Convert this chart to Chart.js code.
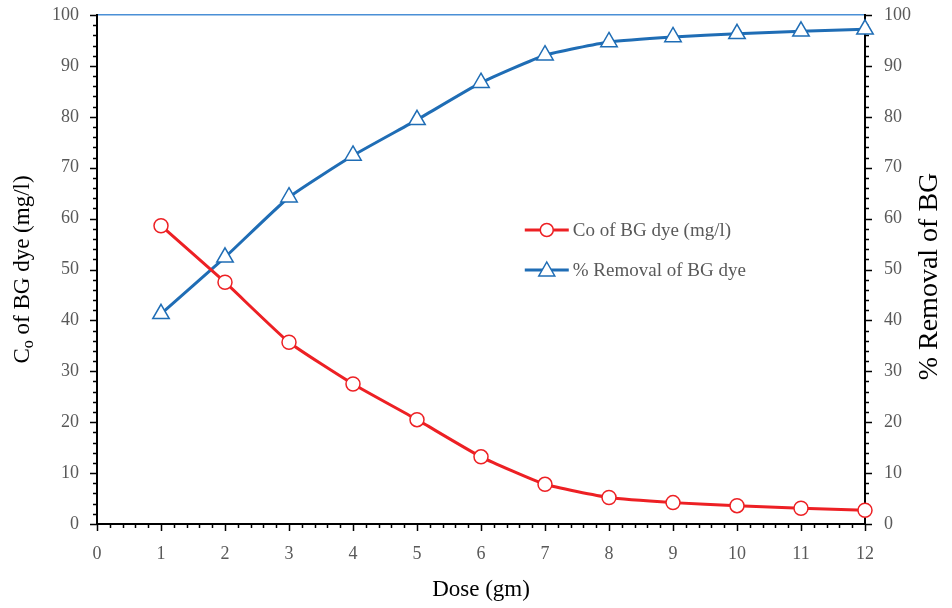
<!DOCTYPE html>
<html>
<head>
<meta charset="UTF-8" />
<title>BG dye removal vs dose</title>
<style>
body { margin: 0; background: #fff; }
#wrap { width: 952px; height: 608px; }
</style>
<script src="https://cdn.jsdelivr.net/npm/chart.js@4/dist/chart.umd.min.js"></script>
</head>
<body>
<div id="wrap"><canvas id="chart1" width="952" height="608"></canvas></div>
<script>
// values
var doses = [1, 2, 3, 4, 5, 6, 7, 8, 9, 10, 11, 12];
var coValues = [58.6, 47.5, 35.7, 27.5, 20.5, 13.2, 7.8, 5.2, 4.2, 3.6, 3.1, 2.7];
var removalValues = [41.3, 52.4, 64.2, 72.4, 79.4, 86.7, 92.1, 94.7, 95.7, 96.3, 96.8, 97.2];
var xTicks = [0, 1, 2, 3, 4, 5, 6, 7, 8, 9, 10, 11, 12];
var yTicks = [0, 10, 20, 30, 40, 50, 60, 70, 80, 90, 100];

var seriesNames = ["Co of BG dye (mg/l)", "% Removal of BG dye"];
var red = "#ED2024";
var blue = "#1F6DB5";
var tickGray = "#595959";
var serif = "'Liberation Serif', 'Times New Roman', serif";

function pts(vals) {
	return doses.map(function(d, i) { return { x: d, y: vals[i] }; });
}

function noPad(s) {
	s.paddingTop = 0; s.paddingBottom = 0; s.paddingLeft = 0; s.paddingRight = 0;
}

// minor/major tick marks, rotated axis titles and the in-plot legend
var decor = {
	id: 'decor',
	beforeDatasetsDraw: function(chart) {
		var c = chart.ctx, a = chart.chartArea;
		var xs = chart.scales.x, yl = chart.scales.yLeft, yr = chart.scales.yRight;
		c.save();
		c.strokeStyle = "#000";
		c.lineWidth = 1.5;
		c.beginPath();
		for (var i = 0; i <= 60; i++) {
			var v = i / 5, px = Math.round(xs.getPixelForValue(v)) + 0.5;
			var len = (i % 5 == 0) ? 7 : 4;
			c.moveTo(px, a.bottom); c.lineTo(px, a.bottom + len);
		}
		for (var j = 0; j <= 50; j++) {
			var yv = j * 2, py = Math.round(yl.getPixelForValue(yv)) + 0.5;
			var l2 = (j % 5 == 0) ? 7 : 4;
			c.moveTo(a.left, py); c.lineTo(a.left - l2, py);
			var py2 = Math.round(yr.getPixelForValue(yv)) + 0.5;
			c.moveTo(a.right, py2); c.lineTo(a.right + l2, py2);
		}
		c.stroke();
		c.restore();
	},
	afterDraw: function(chart) {
		var c = chart.ctx, a = chart.chartArea;
		var midY = (a.top + a.bottom) / 2;
		c.save();
		c.fillStyle = "#000";
		c.textBaseline = "middle";
		// left title with subscript o
		c.save();
		c.translate(23, midY);
		c.rotate(-Math.PI / 2);
		var big = "23px " + serif, small = "16px " + serif;
		c.font = big;
		var w1 = c.measureText("C").width;
		var w3 = c.measureText(" of BG dye (mg/l)").width;
		c.font = small;
		var w2 = c.measureText("o").width;
		var x0 = -(w1 + w2 + w3) / 2;
		c.textAlign = "left";
		c.font = big;
		c.fillText("C", x0, 0);
		c.font = small;
		c.fillText("o", x0 + w1, 6);
		c.font = big;
		c.fillText(" of BG dye (mg/l)", x0 + w1 + w2, 0);
		c.restore();
		// right title (runs off the canvas edge like the original)
		c.save();
		c.translate(930, midY + 7);
		c.rotate(-Math.PI / 2);
		c.textAlign = "center";
		c.font = "28px " + serif;
		c.fillText("% Removal of BG", 0, 0);
		c.restore();
		// legend inside the plot
		var lx = a.left + (a.right - a.left) * 0.557;
		var ly = [230, 270];
		var colors = [red, blue];
		c.font = "19px " + serif;
		c.textAlign = "left";
		for (var k = 0; k < 2; k++) {
			c.strokeStyle = colors[k];
			c.lineWidth = 3;
			c.beginPath(); c.moveTo(lx, ly[k]); c.lineTo(lx + 44, ly[k]); c.stroke();
			c.fillStyle = "#fff";
			c.lineWidth = 1.5;
			c.beginPath();
			if (k == 0) {
				c.arc(lx + 22, ly[k], 6.5, 0, Math.PI * 2);
			} else {
				c.moveTo(lx + 22, ly[k] - 8); c.lineTo(lx + 30, ly[k] + 6); c.lineTo(lx + 14, ly[k] + 6); c.closePath();
			}
			c.fill(); c.stroke();
			c.fillStyle = tickGray;
			c.fillText(seriesNames[k], lx + 48, ly[k] + 1);
		}
		c.restore();
	}
};

new Chart(document.getElementById("chart1"), {
	type: 'line',
	data: {
		datasets: [{
			label: seriesNames[0],
			data: pts(coValues),
			yAxisID: 'yLeft',
			borderColor: red,
			borderWidth: 3,
			pointStyle: 'circle',
			pointRadius: 7,
			pointBorderWidth: 1.5,
			pointBackgroundColor: "#fff",
			pointBorderColor: red,
			tension: 0.15,
			clip: false
		}, {
			label: seriesNames[1],
			data: pts(removalValues),
			yAxisID: 'yRight',
			borderColor: blue,
			borderWidth: 3,
			pointStyle: 'triangle',
			pointRadius: 9.5,
			pointBorderWidth: 1.5,
			pointBackgroundColor: "#fff",
			pointBorderColor: blue,
			tension: 0.15,
			clip: false
		}]
	},
	options: {
		responsive: false,
		animation: false,
		layout: { padding: { top: 15 } },
		plugins: { legend: { display: false }, tooltip: { enabled: false } },
		scales: {
			x: {
				type: 'linear', min: 0, max: 12,
				afterFit: function(s) { s.height = 84; noPad(s); },
				grid: { display: false, drawTicks: false },
				border: { display: true, color: "#000", width: 2 },
				ticks: {
					stepSize: 1, padding: 19, color: tickGray,
					font: { family: serif, size: 18 }
				},
				title: { display: true, text: "Dose (gm)", color: "#000", padding: { top: 6 },
					font: { family: serif, size: 23 } }
			},
			yLeft: {
				position: 'left', min: 0, max: 100,
				afterFit: function(s) { s.width = 97; noPad(s); },
				grid: {
					drawTicks: false,
					color: function(ctx) { return ctx.tick && ctx.tick.value === 100 ? "#4A8FD6" : "rgba(0,0,0,0)"; },
					lineWidth: 1.5
				},
				border: { display: true, color: "#000", width: 2 },
				ticks: {
					stepSize: 10, padding: 18, color: tickGray,
					font: { family: serif, size: 18 }
				}
			},
			yRight: {
				position: 'right', min: 0, max: 100,
				afterFit: function(s) { s.width = 87; noPad(s); },
				grid: { display: false, drawTicks: false },
				border: { display: true, color: "#000", width: 2 },
				ticks: {
					stepSize: 10, padding: 19, color: tickGray,
					font: { family: serif, size: 18 }
				}
			}
		}
	},
	plugins: [decor]
});
</script>
</body>
</html>
